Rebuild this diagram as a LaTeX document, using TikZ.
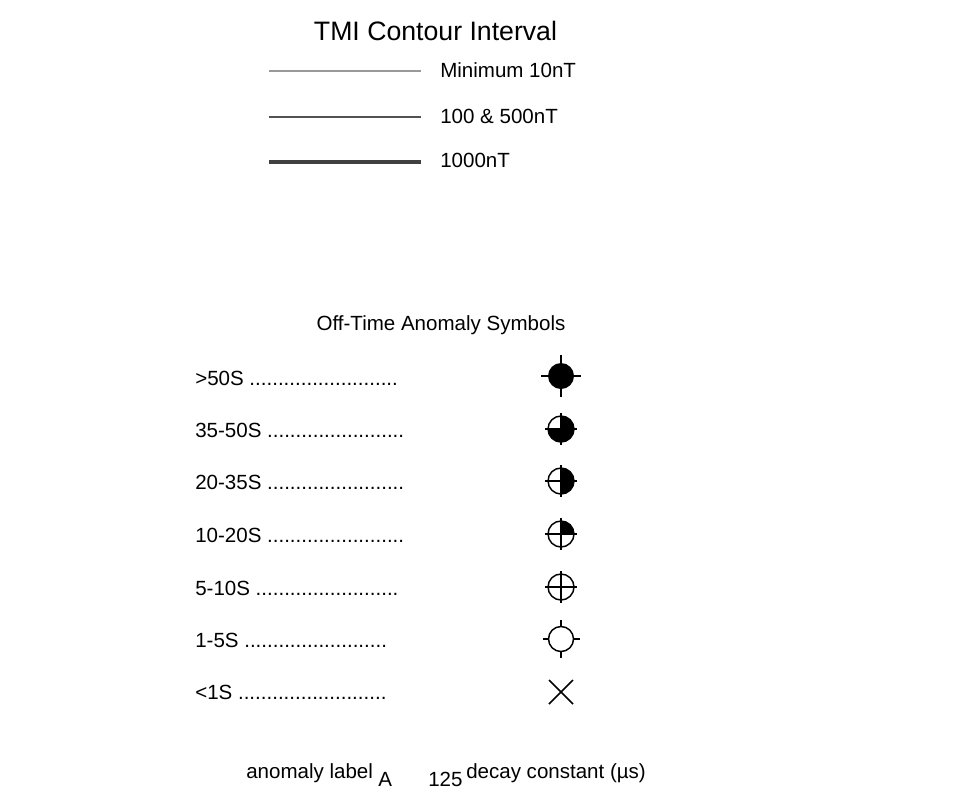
\documentclass[tikz,border=0pt]{standalone}
\usepackage{fontspec}
\setmainfont{Liberation Sans}
\begin{document}
\begin{tikzpicture}[x=0.75pt,y=-0.75pt,
  txt/.style={inner sep=0pt, anchor=base west, font=\fontsize{15.4}{18}\selectfont},
  ttl/.style={inner sep=0pt, anchor=base, font=\fontsize{20}{24}\selectfont},
  thinline/.style={draw=black!40, line width=0.8pt},
  medline/.style={draw=black!68, line width=1.5pt},
  thickline/.style={draw=black!75, line width=2.3pt},
  sym/.style={line width=1.1pt, black}]
\useasboundingbox[fill=white] (0,0) rectangle (967,790);

% Contour interval legend
\node[ttl] (title) at (435.5,40.5) {TMI Contour Interval};
\coordinate (l1a) at (269,71);  \coordinate (l1b) at (421,71);
\coordinate (l2a) at (269,117); \coordinate (l2b) at (421,117);
\coordinate (l3a) at (269,162); \coordinate (l3b) at (421,162);
\draw[thinline] (l1a) -- (l1b);
\draw[medline] (l2a) -- (l2b);
\draw[thickline] (l3a) -- (l3b);
\node[txt] (t1) at (440,77.5) {Minimum 10nT};
\node[txt] (t2) at (440,123) {100 \& 500nT};
\node[txt] (t3) at (440,167) {1000nT};

% Off-time anomaly symbols
\node[ttl, font=\fontsize{15.4}{18}\selectfont] (sub) at (441,330.5) {Off-Time Anomaly Symbols};
\node[txt] (r1) at (195,385) {>50S ..........................};
\node[txt] (r2) at (195,437) {35-50S ........................};
\node[txt] (r3) at (195,489) {20-35S ........................};
\node[txt] (r4) at (195,542) {10-20S ........................};
\node[txt] (r5) at (195,595) {5-10S .........................};
\node[txt] (r6) at (195,647) {1-5S .........................};
\node[txt] (r7) at (195,699) {<1S ..........................};

\coordinate (s1) at (561,376);
\coordinate (s2) at (561,429);
\coordinate (s3) at (561,481);
\coordinate (s4) at (561,534);
\coordinate (s5) at (561,587);
\coordinate (s6) at (561,639);
\coordinate (s7) at (561,692);

% >50S : full disc, outer ticks
\fill[black] (s1) circle[radius=13];
\draw[sym] (s1) ++(13,0) -- ++(7,0);
\draw[sym] (s1) ++(-13,0) -- ++(-7,0);
\draw[sym] (s1) ++(0,13) -- ++(0,8);
\draw[sym] (s1) ++(0,-13) -- ++(0,-8);

% 35-50S : three quarters filled
\fill[black] (s2) -- ++(270:13) arc[start angle=-90, end angle=180, radius=13] -- cycle;
\draw[sym] (s2) circle[radius=13];
\draw[sym] (s2) ++(-16,0) -- ++(32,0);
\draw[sym] (s2) ++(0,-16) -- ++(0,32);

% 20-35S : right half filled
\fill[black] (s3) -- ++(270:13) arc[start angle=-90, end angle=90, radius=13] -- cycle;
\draw[sym] (s3) circle[radius=13];
\draw[sym] (s3) ++(-16,0) -- ++(32,0);
\draw[sym] (s3) ++(0,-16) -- ++(0,32);

% 10-20S : top-right quarter filled
\fill[black] (s4) -- ++(270:13) arc[start angle=-90, end angle=0, radius=13] -- cycle;
\draw[sym] (s4) circle[radius=13];
\draw[sym] (s4) ++(-16,0) -- ++(32,0);
\draw[sym] (s4) ++(0,-16) -- ++(0,32);

% 5-10S : empty with cross
\draw[sym] (s5) circle[radius=13];
\draw[sym] (s5) ++(-16,0) -- ++(32,0);
\draw[sym] (s5) ++(0,-16) -- ++(0,32);

% 1-5S : empty with outer ticks
\draw[sym] (s6) circle[radius=12.5];
\draw[sym] (s6) ++(12.5,0) -- ++(6,0);
\draw[sym] (s6) ++(-12.5,0) -- ++(-6,0);
\draw[sym] (s6) ++(0,12.5) -- ++(0,6.5);
\draw[sym] (s6) ++(0,-12.5) -- ++(0,-6.5);

% <1S : cross
\draw[sym] (s7) ++(-12,-12) -- ++(24,24);
\draw[sym] (s7) ++(-12,12) -- ++(24,-24);

% bottom legend
\node[txt] (al) at (246,778) {anomaly label};
\node[txt] (A) at (378,786) {A};
\node[txt] (num) at (428,786) {125};
\node[txt] (dc) at (466,778) {decay constant (µs)};
\end{tikzpicture}
\end{document}
